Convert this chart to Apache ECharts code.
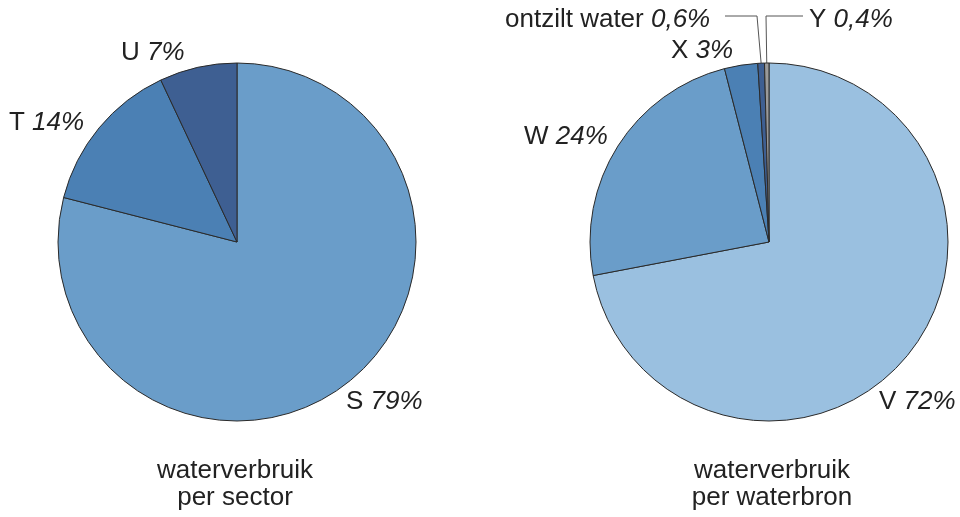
<!DOCTYPE html>
<html><head><meta charset="utf-8">
<script src="https://cdn.jsdelivr.net/npm/echarts@6/dist/echarts.min.js"></script>
<style>html,body{margin:0;padding:0;background:#fff}#c{width:960px;height:517px}</style>
</head><body><div id="c"></div>
<script>
// ---- data ----
const sectorNames = ['S', 'T', 'U'];
const sectorValues = [79, 14, 7];
const sourceNames = ['V', 'W', 'X', 'ontzilt water', 'Y'];
const sourceValues = [72, 24, 3, 0.6, 0.4];
const titleLeft = ['waterverbruik', 'per sector'];
const titleRight = ['waterverbruik', 'per waterbron'];

// ---- styles / layout ----
const sectorColors = ['#6a9dc9', '#4b80b4', '#3e5f92'];
const sourceColors = ['#9ac0e0', '#6a9dc9', '#4b80b4', '#3e5f92', '#9a9a9a'];
const FONT = '"Liberation Sans", Arial, sans-serif';
const labelPos = {
  S: [346, 402], T: [9, 122.5], U: [121, 53],
  V: [879, 401.5], W: [524, 137], X: [671, 51], 'ontzilt water': [505, 19.5], Y: [809, 19.5]
};
const leader = { 'ontzilt water': [757, 16, 725], Y: [766, 16, 803] };

function fmt(v) { return String(v).replace('.', ',') + '%'; }

function labelLayoutFor(names) {
  return function (params) {
    const name = names[params.dataIndex];
    const p = labelPos[name];
    const out = { x: p[0], y: p[1], align: 'left', verticalAlign: 'middle' };
    const g = leader[name];
    if (g && params.labelLinePoints) {
      const a = params.labelLinePoints[0];
      out.labelLinePoints = [a, [g[0], g[1]], [g[2], g[1]]];
    }
    return out;
  };
}

function buildData(names, values, colors) {
  return names.map((n, i) => {
    const d = { name: n, value: values[i], itemStyle: { color: colors[i] } };
    if (leader[n]) d.labelLine = { show: true, lineStyle: { color: '#555', width: 1 } };
    return d;
  });
}

const labelStyle = {
  show: true,
  position: 'outside',
  formatter: p => '{n|' + p.name + ' }{v|' + fmt(p.value) + '}',
  rich: {
    n: { fontFamily: FONT, fontSize: 26, color: '#222', lineHeight: 30 },
    v: { fontFamily: FONT, fontSize: 26, fontStyle: 'italic', color: '#222', lineHeight: 30 }
  }
};

function pieSeries(names, values, colors, cx) {
  return {
    type: 'pie',
    center: [cx, 242],
    radius: [0, 179],
    startAngle: 90,
    clockwise: true,
    avoidLabelOverlap: false,
    silent: true,
    animation: false,
    itemStyle: { borderColor: '#2a2a2a', borderWidth: 1 },
    label: labelStyle,
    labelLine: { show: false },
    labelLayout: labelLayoutFor(names),
    data: buildData(names, values, colors)
  };
}

const titleStyle = { fontFamily: FONT, fontSize: 26, fontWeight: 'normal', color: '#222', lineHeight: 27 };

const chart = echarts.init(document.getElementById('c'), null, { renderer: 'canvas' });
chart.setOption({
  backgroundColor: '#ffffff',
  animation: false,
  title: [
    { text: titleLeft.join('\n'), left: 235, top: 457, textAlign: 'center', padding: 0, textStyle: titleStyle },
    { text: titleRight.join('\n'), left: 772, top: 457, textAlign: 'center', padding: 0, textStyle: titleStyle }
  ],
  series: [
    pieSeries(sectorNames, sectorValues, sectorColors, 237),
    pieSeries(sourceNames, sourceValues, sourceColors, 769)
  ]
});
</script>
</body></html>
